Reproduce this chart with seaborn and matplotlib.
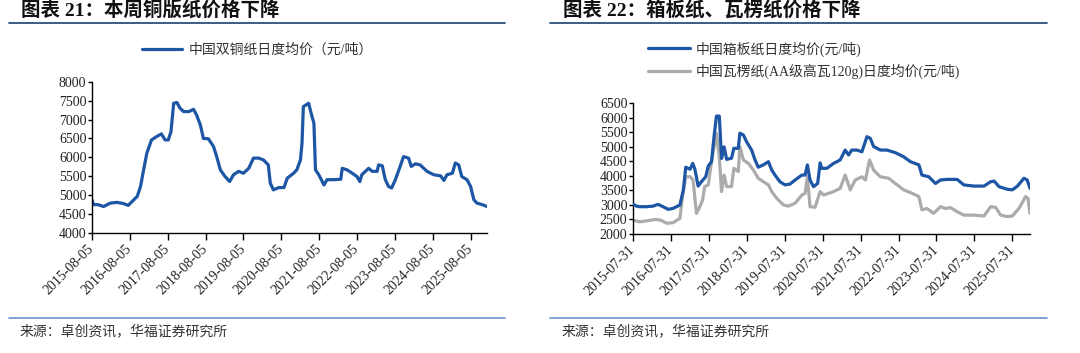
import pandas as pd
import numpy as np
import matplotlib
matplotlib.use("Agg")
import matplotlib.pyplot as plt
from matplotlib.lines import Line2D
import seaborn as sns

# ---- data ----
coated_dates = [
    "2015-08-05", "2015-08-20", "2015-10-01", "2015-11-25", "2016-01-28", "2016-04-01",
    "2016-06-01", "2016-07-20", "2016-08-25", "2016-10-15", "2016-11-15", "2016-12-15",
    "2017-01-15", "2017-03-01", "2017-04-20", "2017-06-05", "2017-07-10", "2017-08-10",
    "2017-09-05", "2017-10-01", "2017-11-01", "2017-12-01", "2018-01-05", "2018-02-25",
    "2018-04-10", "2018-05-10", "2018-06-15", "2018-07-15", "2018-09-01", "2018-10-20",
    "2018-11-20", "2018-12-25", "2019-02-10", "2019-03-25", "2019-05-01", "2019-06-20",
    "2019-08-05", "2019-09-25", "2019-11-10", "2019-12-30", "2020-02-15", "2020-04-01",
    "2020-04-20", "2020-05-20", "2020-07-10", "2020-08-30", "2020-10-01", "2020-12-01",
    "2021-01-01", "2021-02-05", "2021-02-20", "2021-03-05", "2021-04-25", "2021-05-20",
    "2021-06-15", "2021-06-30", "2021-08-01", "2021-09-20", "2021-10-20", "2021-12-25",
    "2022-03-01", "2022-03-15", "2022-05-01", "2022-06-20", "2022-08-05", "2022-09-01",
    "2022-09-20", "2022-11-25", "2022-12-30", "2023-02-15", "2023-03-01", "2023-04-05",
    "2023-05-05", "2023-06-05", "2023-07-05", "2023-08-10", "2023-09-25", "2023-10-28",
    "2023-12-15", "2024-01-10", "2024-02-20", "2024-04-05", "2024-06-10", "2024-08-15",
    "2024-10-20", "2024-11-20", "2024-12-20", "2025-02-10", "2025-03-10", "2025-04-12",
    "2025-05-12", "2025-07-01", "2025-08-05", "2025-09-05", "2025-10-05", "2025-11-25",
    "2026-01-10",
]
coated_price = [
    4880, 4750, 4750, 4700, 4790, 4810, 4780, 4730, 4830, 4970, 5230, 5670,
    6110, 6460, 6550, 6620, 6460, 6460, 6680, 7430, 7450, 7300, 7210, 7210,
    7270, 7120, 6860, 6500, 6490, 6290, 6020, 5670, 5490, 5360, 5540, 5630,
    5580, 5710, 5980, 5980, 5930, 5800, 5320, 5140, 5200, 5200, 5450, 5580,
    5670, 5930, 6370, 7340, 7430, 7160, 6900, 5670, 5540, 5270, 5410, 5410,
    5420, 5710, 5670, 5580, 5490, 5360, 5540, 5710, 5630, 5630, 5800, 5780,
    5410, 5230, 5190, 5410, 5760, 6020, 5980, 5760, 5830, 5800, 5630, 5540,
    5510, 5390, 5540, 5580, 5850, 5800, 5490, 5410, 5230, 4880, 4790, 4750,
    4700,
]

board_dates = [
    "2015-07-31", "2015-09-02", "2015-10-03", "2015-12-06", "2016-02-10", "2016-03-28",
    "2016-05-15", "2016-07-03", "2016-08-20", "2016-10-25", "2016-11-27", "2016-12-20",
    "2017-01-31", "2017-02-25", "2017-03-18", "2017-04-18", "2017-05-20", "2017-06-30",
    "2017-07-25", "2017-08-25", "2017-09-20", "2017-10-12", "2017-11-08", "2017-11-30",
    "2017-12-24", "2018-01-18", "2018-03-06", "2018-03-28", "2018-05-10", "2018-05-25",
    "2018-06-28", "2018-07-28", "2018-09-15", "2018-10-18", "2018-11-18", "2019-01-06",
    "2019-02-24", "2019-03-28", "2019-04-28", "2019-06-15", "2019-08-03", "2019-09-20",
    "2019-11-08", "2020-01-12", "2020-02-12", "2020-03-05", "2020-03-31", "2020-05-03",
    "2020-06-12", "2020-07-06", "2020-07-22", "2020-09-08", "2020-11-12", "2021-01-15",
    "2021-03-04", "2021-04-06", "2021-05-06", "2021-06-25", "2021-08-12", "2021-09-30",
    "2021-11-02", "2021-12-03", "2022-02-06", "2022-04-10", "2022-06-30", "2022-09-18",
    "2022-11-22", "2023-02-12", "2023-03-13", "2023-05-18", "2023-07-22", "2023-09-08",
    "2023-11-12", "2024-02-15", "2024-04-20", "2024-07-25", "2024-10-31", "2025-01-03",
    "2025-02-06", "2025-03-25", "2025-06-12", "2025-07-31", "2025-09-18", "2025-11-20",
    "2025-12-21", "2026-01-17",
]
board_price = [
    3030, 2960, 2940, 2940, 2960, 3020, 2940, 2850, 2880, 3000, 3520, 4300,
    4230, 4430, 4230, 3650, 3800, 3970, 4340, 4490, 5410, 6060, 6060, 4600,
    5000, 4570, 4610, 4950, 4950, 5470, 5410, 5180, 4890, 4550, 4300, 4380,
    4490, 4200, 4030, 3800, 3690, 3720, 3860, 4030, 4030, 4380, 3860, 3630,
    3740, 4450, 4260, 4260, 4430, 4550, 4890, 4720, 4890, 4890, 4830, 5350,
    5290, 5010, 4890, 4890, 4800, 4660, 4490, 4380, 4030, 3970, 3740, 3860,
    3880, 3880, 3690, 3650, 3650, 3800, 3820, 3630, 3540, 3520, 3650, 3920,
    3860, 3570,
]

corr_dates = [
    "2015-07-31", "2015-10-03", "2015-12-06", "2016-03-01", "2016-04-20", "2016-06-20",
    "2016-08-20", "2016-10-25", "2016-11-18", "2016-12-20", "2017-01-31", "2017-02-28",
    "2017-04-02", "2017-04-27", "2017-05-31", "2017-06-20", "2017-07-25", "2017-08-25",
    "2017-09-20", "2017-10-12", "2017-11-08", "2017-11-30", "2017-12-24", "2018-01-18",
    "2018-03-06", "2018-03-28", "2018-05-10", "2018-05-25", "2018-06-28", "2018-08-15",
    "2018-10-03", "2018-11-18", "2019-01-06", "2019-02-24", "2019-03-28", "2019-05-15",
    "2019-07-18", "2019-09-05", "2019-11-08", "2020-01-12", "2020-02-12", "2020-03-05",
    "2020-03-31", "2020-05-18", "2020-07-06", "2020-08-08", "2020-11-12", "2021-01-15",
    "2021-03-04", "2021-04-22", "2021-06-09", "2021-08-12", "2021-09-15", "2021-10-25",
    "2021-12-03", "2022-02-06", "2022-04-27", "2022-06-30", "2022-09-18", "2022-12-09",
    "2023-02-12", "2023-03-13", "2023-04-30", "2023-07-04", "2023-09-08", "2023-10-25",
    "2023-12-12", "2024-02-15", "2024-04-20", "2024-07-25", "2024-10-31", "2025-01-03",
    "2025-02-20", "2025-04-09", "2025-06-12", "2025-07-31", "2025-10-03", "2025-12-06",
    "2025-12-28", "2026-01-17",
]
corr_price = [
    2480, 2420, 2450, 2500, 2480, 2370, 2390, 2540, 3290, 3970, 3970, 3860,
    2710, 2880, 3170, 3630, 3690, 4490, 5010, 5470, 4660, 3460, 4030, 3630,
    3630, 4260, 4150, 5010, 4550, 4430, 4200, 3920, 3800, 3690, 3460, 3230,
    3000, 2960, 3060, 3340, 3400, 3970, 2940, 2920, 3460, 3340, 3460, 3570,
    4030, 3520, 3860, 3970, 3860, 4550, 4200, 3970, 3920, 3740, 3520, 3400,
    3290, 2830, 2880, 2710, 2940, 2880, 2910, 2770, 2650, 2650, 2620, 2940,
    2920, 2650, 2600, 2620, 2880, 3290, 3230, 2710,
]

left_ticks = ["2015-08-05", "2016-08-05", "2017-08-05", "2018-08-05", "2019-08-05",
              "2020-08-05", "2021-08-05", "2022-08-05", "2023-08-05", "2024-08-05",
              "2025-08-05"]
right_ticks = ["2015-07-31", "2016-07-31", "2017-07-31", "2018-07-31", "2019-07-31",
               "2020-07-31", "2021-07-31", "2022-07-31", "2023-07-31", "2024-07-31",
               "2025-07-31"]

coated_name = "中国双铜纸日度均价（元/吨）"
board_name = "中国箱板纸日度均价(元/吨)"
corr_name = "中国瓦楞纸(AA级高瓦120g)日度均价(元/吨)"
title_left = "图表 21：本周铜版纸价格下降"
title_right = "图表 22：箱板纸、瓦楞纸价格下降"
source_text = "来源：卓创资讯，华福证券研究所"

BLUE = "#1c56a4"
GRAY = "#ababab"
DARK_LINE = "#2b5079"
LIGHT_LINE = "#6a93c8"

sns.set_style("ticks")
plt.rcParams["font.family"] = ["Liberation Serif", "Noto Sans CJK SC"]
plt.rcParams["axes.unicode_minus"] = False

W, H = 1080, 353
fig = plt.figure(figsize=(W / 100, H / 100), dpi=100)


def fx(x):
    return x / W


def fy(y):
    return 1 - y / H


def axes_px(x0, x1, ytop, ybot):
    return fig.add_axes([fx(x0), fy(ybot), fx(x1 - x0), (ybot - ytop) / H])


ax1 = axes_px(92, 487, 81.7, 233)
ax2 = axes_px(633, 1030, 103.3, 234)

df1 = pd.DataFrame({"date": pd.to_datetime(coated_dates), "price": coated_price, "series": coated_name})
df2 = pd.concat([
    pd.DataFrame({"date": pd.to_datetime(board_dates), "price": board_price, "series": board_name}),
    pd.DataFrame({"date": pd.to_datetime(corr_dates), "price": corr_price, "series": corr_name}),
])

sns.lineplot(data=df1, x="date", y="price", hue="series", palette=[BLUE], ax=ax1, lw=2.3)
sns.lineplot(data=df2, x="date", y="price", hue="series", palette=[BLUE, GRAY],
             hue_order=[board_name, corr_name], ax=ax2, lw=2.3)
# blue drawn over gray
ax2.lines[0].set_zorder(3)


def style_axis(ax, ticks, ylim, ystep, xend):
    ax.set_xlim(pd.to_datetime(ticks[0]), pd.to_datetime(xend))
    ax.set_ylim(*ylim)
    ax.set_yticks(np.arange(ylim[0], ylim[1] + 1, ystep))
    ax.set_xticks(pd.to_datetime(ticks))
    ax.set_xticklabels(ticks, rotation=45, ha="right", va="center", rotation_mode="anchor")
    ax.tick_params(axis="x", length=5, width=1, labelsize=10, pad=5, color="black")
    ax.tick_params(axis="y", length=3, width=1, labelsize=10, pad=1, color="black")
    for lab in ax.get_yticklabels() + ax.get_xticklabels():
        lab.set_color("#222222")
    sns.despine(ax=ax)
    for s in ("left", "bottom"):
        ax.spines[s].set_color("black")
        ax.spines[s].set_linewidth(1)
    ax.set_xlabel("")
    ax.set_ylabel("")


style_axis(ax1, left_ticks, (4000, 8000), 500, coated_dates[-1])
style_axis(ax2, right_ticks, (2000, 6500), 500, board_dates[-1])

# legends
h1, l1 = ax1.get_legend_handles_labels()
ax1.legend(h1, l1, loc="center left", bbox_to_anchor=(fx(142), fy(50)),
           bbox_transform=fig.transFigure, frameon=False, fontsize=10,
           handlelength=2.9, handletextpad=0.45, borderpad=0, borderaxespad=0,
           labelcolor="#333333")
h2, l2 = ax2.get_legend_handles_labels()
ax2.legend(h2, l2, loc="center left", bbox_to_anchor=(fx(648), fy(60)),
           bbox_transform=fig.transFigure, frameon=False, fontsize=10,
           handlelength=3.0, handletextpad=0.4, borderpad=0, borderaxespad=0,
           labelspacing=0.5, labelcolor="#333333")

# titles, rules and source notes
for x_text, x0, x1, title in [(21, 9, 505, title_left), (563, 550, 1047, title_right)]:
    fig.text(fx(x_text), fy(10), title, fontsize=14, fontweight="bold",
             ha="left", va="center", color="#111111")
    fig.add_artist(Line2D([fx(x0), fx(x1)], [fy(23), fy(23)], transform=fig.transFigure,
                          color=DARK_LINE, lw=1.3))
    fig.add_artist(Line2D([fx(x0), fx(x1)], [fy(318), fy(318)], transform=fig.transFigure,
                          color=LIGHT_LINE, lw=1.2))
    fig.text(fx(x_text - 1), fy(331), source_text, fontsize=10, ha="left", va="center",
             color="#333333")

fig.savefig("out.png", dpi=100)
